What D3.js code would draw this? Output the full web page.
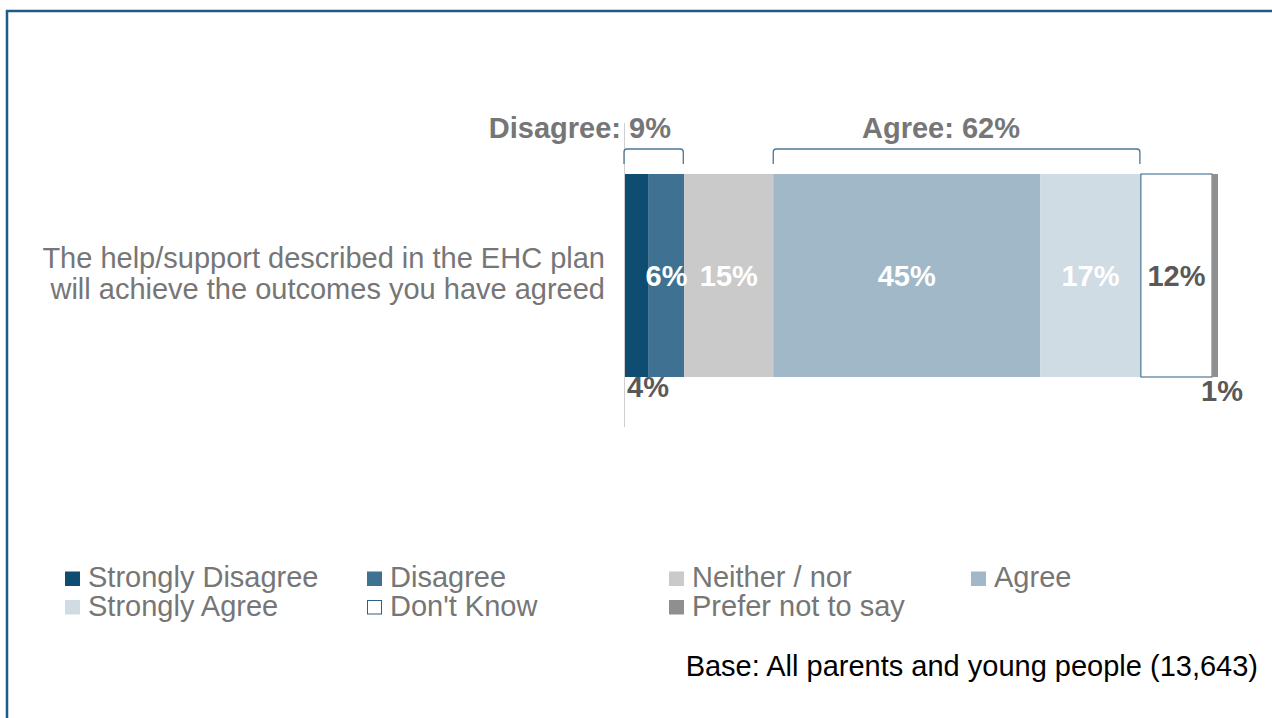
<!DOCTYPE html>
<html>
<head>
<meta charset="utf-8">
<script src="https://cdn.jsdelivr.net/npm/d3@7"></script>
<style>
  html, body { margin: 0; padding: 0; background: #fff; }
  svg { display: block; font-family: "Liberation Sans", Arial, Helvetica, sans-serif; }
</style>
</head>
<body>
<svg id="chart" width="1272" height="718"></svg>
<script>
// ---- Data ----
const categories = ["Strongly Disagree", "Disagree", "Neither / nor", "Agree", "Strongly Agree", "Don't Know", "Prefer not to say"];
const values = [4, 6, 15, 45, 17, 12, 1];
const colors = ["#0f4c72", "#3f7292", "#cacaca", "#a1b8c8", "#cfdce4", "#ffffff", "#8f8f8f"];
const labelColors = ["#595959", "#ffffff", "#ffffff", "#ffffff", "#ffffff", "#595959", "#595959"];
const question = ["The help/support described in the EHC plan", "will achieve the outcomes you have agreed"];
const groupLabels = [
  { text: "Disagree: 9%", from: 0, to: 10 },
  { text: "Agree: 62%", from: 25, to: 87 }
];
const baseNote = "Base: All parents and young people (13,643)";

// ---- Chart ----
const FS = 29;
const svg = d3.select("#chart");
const x = d3.scaleLinear().domain([0, 100]).range([625, 1218]);
const y = d3.scaleBand().domain([question.join(" ")]).range([174, 377]).padding(0);

// frame
svg.append("rect").attr("x", 7).attr("y", 11).attr("width", 1300).attr("height", 800)
  .attr("fill", "none").attr("stroke", "#1f5b86").attr("stroke-width", 2.5);

// stacked data
let acc = 0;
const segs = values.map((v, i) => { const s = { i, v, x0: acc, x1: acc + v, cat: categories[i] }; acc += v; return s; });

// axis line
svg.append("line").attr("x1", 624.5).attr("x2", 624.5).attr("y1", 123).attr("y2", 427)
  .attr("stroke", "#cfcfcf").attr("stroke-width", 1);

const rowY = y(question.join(" ")), bh = y.bandwidth();
svg.selectAll("rect.seg").data(segs).enter().append("rect").attr("class", "seg")
  .attr("x", d => x(d.x0)).attr("width", d => x(d.x1) - x(d.x0))
  .attr("y", rowY).attr("height", bh)
  .attr("fill", d => colors[d.i])
  .attr("stroke", d => d.i === 5 ? "#2a6089" : "none")
  .attr("stroke-width", d => d.i === 5 ? 1 : 0);

// segment labels
svg.selectAll("text.seg").data(segs).enter().append("text").attr("class", "seg")
  .attr("x", d => {
    if (d.i === 0) return x(d.x0) + 2;
    if (d.i === 6) return x(d.x0) + 10;
    return (x(d.x0) + x(d.x1)) / 2;
  })
  .attr("y", d => d.i === 0 ? 397 : d.i === 6 ? 401 : rowY + bh / 2 + 10)
  .attr("text-anchor", d => d.i === 0 ? "start" : "middle")
  .attr("font-size", FS).attr("font-weight", "bold")
  .attr("fill", d => labelColors[d.i])
  .text(d => d.v + "%");

// group brackets
groupLabels.forEach((g, k) => {
  const a = x(g.from) - (k === 0 ? 1 : 0), b = x(g.to) - 1, top = 149, bot = 164, r = 3;
  svg.append("path")
    .attr("d", `M${a},${bot} L${a},${top + r} Q${a},${top} ${a + r},${top} L${b - r},${top} Q${b},${top} ${b},${top + r} L${b},${bot}`)
    .attr("fill", "none").attr("stroke", "#4a7797").attr("stroke-width", 1.3);
});
svg.append("text").attr("x", 671).attr("y", 138).attr("text-anchor", "end")
  .attr("font-size", FS).attr("font-weight", "bold").attr("fill", "#767676").text(groupLabels[0].text);
svg.append("text").attr("x", 941).attr("y", 138).attr("text-anchor", "middle")
  .attr("font-size", FS).attr("font-weight", "bold").attr("fill", "#767676").text(groupLabels[1].text);

// category label
svg.append("text").attr("text-anchor", "end").attr("font-size", FS).attr("fill", "#767676")
  .selectAll("tspan").data(question).enter().append("tspan")
  .attr("x", 605).attr("y", (d, i) => 268 + i * 30.5).text(d => d);

// legend
const legX = [65, 367, 669, 971];
const leg = svg.append("g");
categories.forEach((c, i) => {
  const col = i < 4 ? i : i - 4, row = i < 4 ? 0 : 1;
  const lx = legX[col], ly = 571.5 + row * 28.5;
  leg.append("rect").attr("x", lx + (i === 5 ? 0.5 : 0)).attr("y", ly + (i === 5 ? 0.5 : 0))
    .attr("width", i === 5 ? 14 : 15).attr("height", i === 5 ? 13.5 : 14.5)
    .attr("fill", colors[i]).attr("stroke", i === 5 ? "#2a6089" : "none").attr("stroke-width", 1);
  leg.append("text").attr("x", lx + 23).attr("y", ly + 15.5)
    .attr("font-size", FS).attr("fill", "#767676").text(c);
});

// base note
svg.append("text").attr("x", 1258).attr("y", 676).attr("text-anchor", "end")
  .attr("font-size", FS).attr("fill", "#000").text(baseNote);
</script>
</body>
</html>
